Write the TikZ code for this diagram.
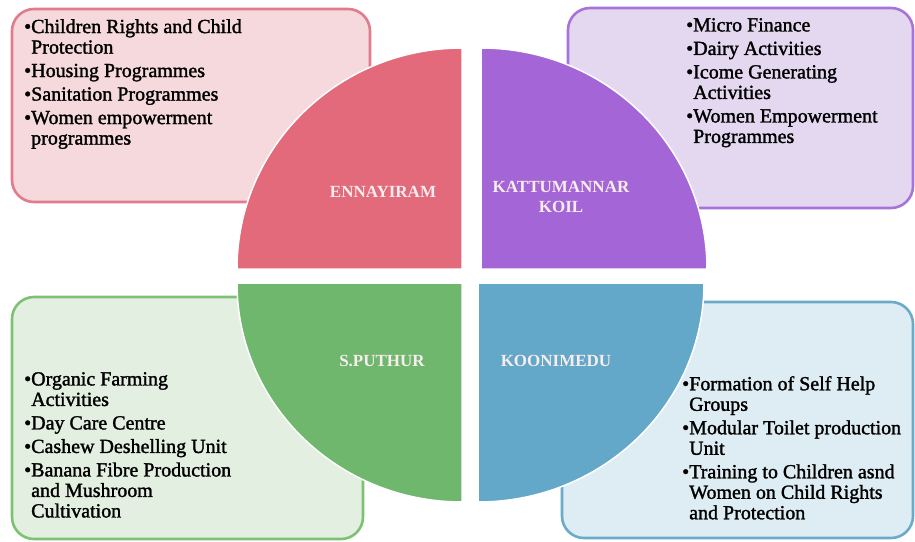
\documentclass[tikz,border=0pt]{standalone}
\usepackage{fontspec}
\setmainfont{Liberation Serif}
\newfontfamily\bodyfont{Liberation Serif}[FakeBold=1.5]
\newfontfamily\labfont{Liberation Serif Bold}
\definecolor{pinkq}{HTML}{E36A7B}
\definecolor{pinkf}{HTML}{F5D9DC}
\definecolor{pinkb}{HTML}{E27B8B}
\definecolor{purpq}{HTML}{A466D6}
\definecolor{purpf}{HTML}{E4D8F1}
\definecolor{purpb}{HTML}{A873D8}
\definecolor{greenq}{HTML}{6EB76C}
\definecolor{greenf}{HTML}{E3EFE0}
\definecolor{greenb}{HTML}{7EC074}
\definecolor{blueq}{HTML}{63A8C8}
\definecolor{bluef}{HTML}{DEEDF3}
\definecolor{blueb}{HTML}{6AABC9}
\definecolor{labc}{HTML}{F8ECEE}
\tikzset{
  infobox/.style={line width=2.6pt, rounded corners=22pt},
  quad/.style={draw=white, line width=1.5pt},
  qlabel/.style={inner sep=0pt, text=labc, font=\labfont\fontsize{17}{20}\selectfont, align=center},
  itemtext/.style={inner sep=0pt, anchor=north west, align=left, font=\bodyfont\fontsize{20}{20.5}\selectfont},
}
\newcommand{\bul}{\textbullet}
\newcommand{\ind}{\phantom{\textbullet}}
\begin{document}
\begin{tikzpicture}[x=1pt,y=-1pt]
\useasboundingbox (0,0) rectangle (915,541);
% boxes
\draw[infobox, draw=pinkb, fill=pinkf] (12,9) rectangle (370,202);
\draw[infobox, draw=purpb, fill=purpf] (568,8) rectangle (913,208);
\draw[infobox, draw=greenb, fill=greenf] (12,297) rectangle (363,539);
\draw[infobox, draw=blueb, fill=bluef] (562,302) rectangle (913,538);
% quadrants
\fill[quad, fill=pinkq] (462,269) -- (237,269) arc[start angle=180, end angle=270, x radius=225, y radius=221] -- cycle;
\fill[quad, fill=purpq] (481,269) -- (707,269) arc[start angle=0, end angle=-90, x radius=226, y radius=221] -- cycle;
\fill[quad, fill=greenq] (462,283) -- (237,283) arc[start angle=180, end angle=90, x radius=225, y radius=219] -- cycle;
\fill[quad, fill=blueq] (478,283) -- (704,283) arc[start angle=0, end angle=90, x radius=226, y radius=219] -- cycle;
% labels
\node[qlabel] (ennayiram) at (383,192) {ENNAYIRAM};
\node[qlabel] (kattu) at (561,197) {KATTUMANNAR\\KOIL};
\node[qlabel] (sputhur) at (382,361) {S.PUTHUR};
\node[qlabel] (koonimedu) at (556,361) {KOONIMEDU};
% texts
\node[itemtext] (ptext) at (24,19) {\bul Children Rights and Child\\\ind Protection\\[3pt]\bul Housing Programmes\\[3pt]\bul Sanitation Programmes\\[3pt]\bul Women empowerment\\\ind programmes};
\node[itemtext] (utext) at (686,18) {\bul Micro Finance\\[3pt]\bul Dairy Activities\\[3pt]\bul Icome Generating\\\ind Activities\\[3pt]\bul Women Empowerment\\\ind Programmes};
\node[itemtext] (gtext) at (24,372) {\bul Organic Farming\\\ind Activities\\[3pt]\bul Day Care Centre\\[3pt]\bul Cashew Deshelling Unit\\[3pt]\bul Banana Fibre Production\\\ind and Mushroom\\\ind Cultivation};
\node[itemtext] (btext) at (682,376) {\bul Formation of Self Help\\\ind Groups\\[3pt]\bul Modular Toilet production\\\ind Unit\\[3pt]\bul Training to Children asnd\\\ind Women on Child Rights\\\ind and Protection};
\end{tikzpicture}
\end{document}
